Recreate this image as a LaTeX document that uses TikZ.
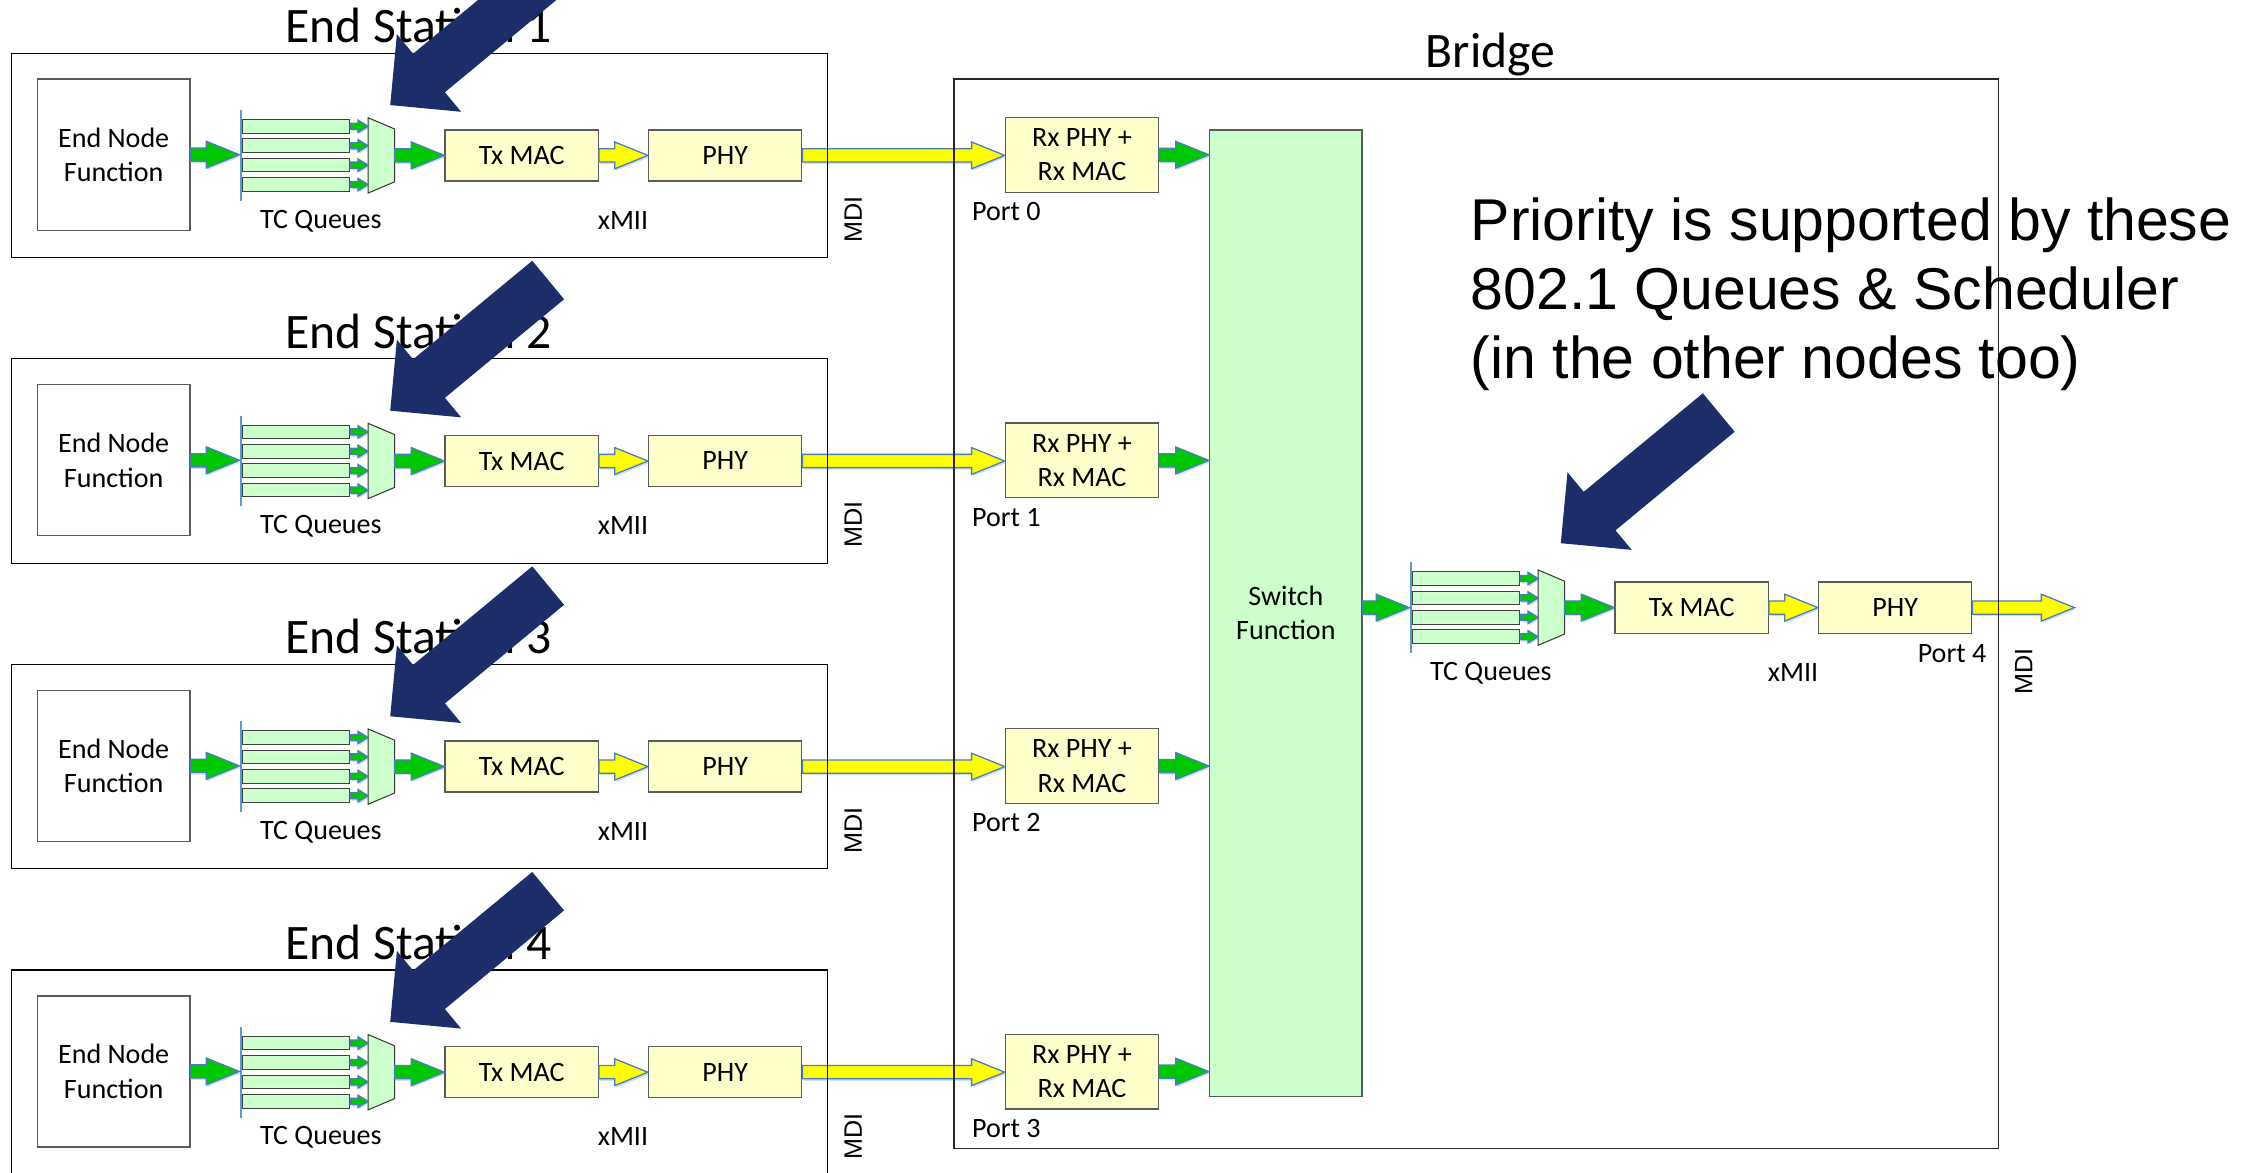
\documentclass[tikz,border=0pt]{standalone}
\usepackage{fontspec}
\setmainfont{Carlito}
\newfontfamily\arialfont{Liberation Sans}
\usetikzlibrary{calc,shadows}

\definecolor{agreen}{RGB}{0,200,0}
\definecolor{ayellow}{RGB}{255,255,0}
\definecolor{aedge}{RGB}{74,126,187}
\definecolor{lyellow}{RGB}{255,255,204}
\definecolor{lgreen}{RGB}{204,255,204}
\definecolor{qblue}{RGB}{91,155,213}
\definecolor{navy}{RGB}{28,46,106}
\definecolor{boxedge}{RGB}{90,90,90}

\tikzset{
  small/.style={font=\fontsize{19.5}{23.8}\selectfont},
  title/.style={font=\fontsize{34.5}{40}\selectfont, inner sep=0pt},
  mdi/.style={font=\arialfont\fontsize{17.5}{20}\selectfont, rotate=90, inner sep=0pt},
  prio/.style={font=\arialfont\fontsize{41}{48}\selectfont, align=left, inner sep=0pt},
  ybox/.style={small, draw=boxedge, fill=lyellow, line width=0.9pt, minimum width=106.5pt, minimum height=35.5pt, inner sep=0pt, align=center},
  rxbox/.style={ybox, minimum height=52pt},
  endbox/.style={small, draw=boxedge, fill=white, line width=0.9pt, minimum width=106pt, minimum height=105pt, inner sep=0pt, align=center},
  swbox/.style={small, draw=boxedge, fill=lgreen, line width=0.9pt, minimum width=106pt, minimum height=671.6pt, inner sep=0pt, align=center},
  stbox/.style={draw=black, line width=0.9pt, minimum width=567pt, minimum height=142pt, inner sep=0pt},
  brbox/.style={draw=black!85, line width=0.9pt, minimum width=726pt, minimum height=743pt, inner sep=0pt},
  qline/.style={fill=qblue, minimum width=1.8pt, minimum height=63pt, inner sep=0pt},
  qbar/.style={fill=lgreen, draw=black!75, line width=0.7pt, minimum width=74.3pt, minimum height=9.5pt, inner sep=0pt},
  muxspot/.style={minimum width=18pt, minimum height=52pt, inner sep=0pt},
  muxfill/.style={fill=lgreen, draw=black!80, line width=0.7pt},
  lbl/.style={small, inner sep=0pt},
  greenarrow/.style={fill=agreen, draw=aedge, line width=0.9pt, drop shadow={shadow xshift=0.8pt, shadow yshift=-1.4pt, opacity=0.25, fill=aedge}},
  yellowarrow/.style={greenarrow, fill=ayellow},
}

\newcommand{\fatarrow}[6]{%
  \path[#1] let \p1=(#2), \p2=(#3) in
    (\x1,\y1+#4) -- (\x2-#6,\y1+#4) -- (\x2-#6,\y1+#5) -- (\x2,\y1)
    -- (\x2-#6,\y1-#5) -- (\x2-#6,\y1-#4) -- (\x1,\y1-#4) -- cycle;}
\newcommand{\bigarrow}[3]{\fatarrow{#1}{#2}{#3}{4.6pt}{9.3pt}{23pt}}
\newcommand{\tinyarrow}[2]{\fatarrow{greenarrow}{#1}{#2}{2.1pt}{4.3pt}{7pt}}

\newcommand{\txchain}[3]{%
  \node[qline] (#1-q) at (#2,#3) {};
  \foreach \i in {1,...,4}
    \node[qbar] (#1-b\i) at ({#2+38.4},{#3+(\i-2.5)*13.5}) {};
  \node[muxspot] (#1-mux) at ({#2+97.5},#3) {};
  \draw[muxfill] (#1-mux.north west) -- ([yshift=-7.8pt]#1-mux.north east)
    -- ([yshift=7.8pt]#1-mux.south east) -- (#1-mux.south west) -- cycle;
  \node[ybox] (#1-tx) at ({#2+195.1},#3) {Tx MAC};
  \node[ybox] (#1-phy) at ({#2+336.5},#3) {PHY};
  \node[lbl] (#1-tcq) at ({#2+55.5},{#3+45.5}) {TC Queues};
  \node[lbl] (#1-xmii) at ({#2+265.5},{#3+45}) {xMII};
  \foreach \i in {1,...,4}
    {\tinyarrow{#1-b\i.east}{#1-mux.west}}
  \bigarrow{greenarrow}{#1-mux.east}{#1-tx.west}
  \bigarrow{yellowarrow}{#1-tx.east}{#1-phy.west}
}

\newcommand{\callout}[2]{%
  \fill[navy, shift={(#1,#2)}, rotate=219.6] (0,-17.35) -- (107.5,-17.35) -- (107.5,-35)
    -- (142.5,0) -- (107.5,35) -- (107.5,17.35) -- (0,17.35) -- cycle;}

\begin{document}
\begin{tikzpicture}[x=1pt, y=-1pt]
\useasboundingbox (0,0) rectangle (1568,815);

\foreach \s [evaluate=\s as \dy using (\s-1)*212.4, evaluate=\s as \pn using int(\s-1)] in {1,...,4} {
  \node[endbox] (e\s) at (79,107.5+\dy) {End Node\\Function};
  \txchain{s\s}{167.5}{108+\dy}
  \node[mdi] (m\s) at (593,152.4+\dy) {MDI};
  \node[rxbox] (rx\s) at (752,107.6+\dy) {Rx PHY +\\Rx MAC};
  \node[lbl, anchor=west] (p\s) at (675.5,147+\dy) {Port \pn};
}

\node[swbox] (sw) at (893.7,426.2) {Switch\\Function};
\txchain{o}{980.7}{422.3}
\node[lbl, anchor=east] (p5) at (1380.7,454) {Port 4};
\node[mdi] (m5) at (1406.6,466.8) {MDI};
\coordinate (out) at (1441.8,422.3);

\foreach \s in {1,...,4} {
  \bigarrow{greenarrow}{e\s.east}{s\s-q.west}
  \bigarrow{yellowarrow}{s\s-phy.east}{rx\s.west}
  \bigarrow{greenarrow}{rx\s.east}{sw.west}
}
\bigarrow{greenarrow}{sw.east |- o-q.west}{o-q.west}
\bigarrow{yellowarrow}{o-phy.east}{out}

\foreach \s [evaluate=\s as \dy using (\s-1)*212.4] in {1,...,4} {
  \node[stbox] (st\s) at (291.5,108+\dy) {};
  \node[title, anchor=base] (t\s) at (291,29.5+\dy) {End Station \s};
}
\node[brbox] (br) at (1026,426.5) {};
\node[title, anchor=base] (brt) at (1036,47) {Bridge};
\node[prio, anchor=north west] (note) at (1022,137) {Priority is supported by these\\802.1 Queues \& Scheduler\\(in the other nodes too)};

\foreach \ty in {-17.8,194.6,407,619.4} {
  \callout{381}{\ty}
}
\callout{1194.6}{286.7}
\end{tikzpicture}
\end{document}
